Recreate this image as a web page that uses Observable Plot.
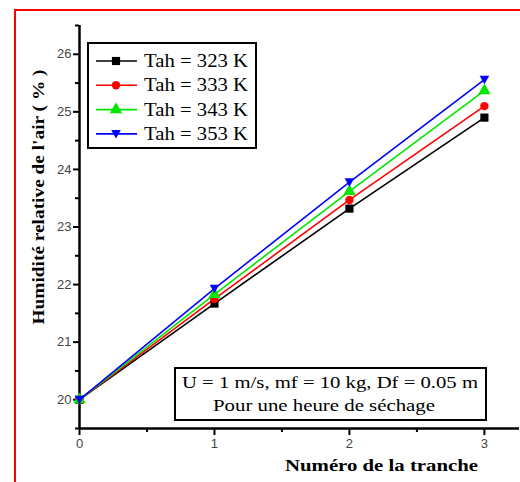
<!DOCTYPE html>
<html>
<head>
<meta charset="utf-8">
<script src="https://cdn.jsdelivr.net/npm/d3@7"></script>
<script src="https://cdn.jsdelivr.net/npm/@observablehq/plot@0.6"></script>
<style>
  html, body { margin: 0; padding: 0; background: #fff; }
  #wrap { position: relative; width: 520px; height: 482px; overflow: hidden; }
  #frame { position: absolute; left: 14px; top: 9px; width: 700px; height: 700px; border: 2px solid #ff0000; box-sizing: border-box; }
  #chart { position: absolute; left: 0; top: 0; }
</style>
</head>
<body>
<div id="wrap"><div id="frame"></div><div id="chart"></div></div>
<script>
// ---- data ----
const tranches = [0, 1, 2, 3];
const seriesNames = ["Tah = 323 K", "Tah = 333 K", "Tah = 343 K", "Tah = 353 K"];
const tah323 = [20, 21.67, 23.32, 24.90];
const tah333 = [20, 21.75, 23.47, 25.10];
const tah343 = [20, 21.83, 23.62, 25.37];
const tah353 = [20, 21.93, 23.78, 25.56];
const yTicks = [20, 21, 22, 23, 24, 25, 26];
const xTicks = [0, 1, 2, 3];
const xLabel = "Numéro de la tranche";
const yLabel = "Humidité relative de l'air ( % )";
const noteLines = ["U = 1 m/s, mf = 10 kg, Df = 0.05 m", "Pour une heure de séchage"];

// ---- styles ----
const colors = ["#000000", "#ff0000", "#00e600", "#0000ff"];
const triDown = {
  draw(context, size) {
    const h = Math.sqrt(size) * 0.95;
    const w = h * 0.62;
    context.moveTo(-w, -h * 0.5);
    context.lineTo(w, -h * 0.5);
    context.lineTo(0, h * 0.6);
    context.closePath();
  }
};
const symbols = ["square", "circle", "triangle", triDown];
const allSeries = [tah323, tah333, tah343, tah353];

const rows = [];
allSeries.forEach((vals, i) => vals.forEach((v, j) => rows.push({x: tranches[j], y: v, s: seriesNames[i], i})));

const tickFont = "Liberation Sans, Arial, sans-serif";
const marks = [];
marks.push(Plot.ruleX([0], {stroke: "#000", strokeWidth: 2.5}));
marks.push(Plot.ruleY([19.5], {stroke: "#000", strokeWidth: 2.5}));
marks.push(Plot.axisY(yTicks, {tickSize: 6, tickPadding: 2, fontSize: 13, fill: "#444", fontFamily: tickFont, stroke: "#000", strokeWidth: 2, tickFormat: d3.format("d"), label: null}));
marks.push(Plot.axisY(d3.range(19.5, 26.6, 1), {tickSize: 4, tickFormat: () => "", stroke: "#000", strokeWidth: 2, label: null}));
marks.push(Plot.axisX(xTicks, {tickSize: 7, tickPadding: 3, fontSize: 13, fill: "#444", fontFamily: tickFont, stroke: "#000", strokeWidth: 2, tickFormat: d3.format("d"), label: null}));
marks.push(Plot.axisX([0.5, 1.5, 2.5], {tickSize: 4, tickFormat: () => "", stroke: "#000", strokeWidth: 2, label: null}));

seriesNames.forEach((name, i) => {
  const d = rows.filter(r => r.i === i);
  marks.push(Plot.line(d, {x: "x", y: "y", stroke: colors[i], strokeWidth: 1.6}));
});
seriesNames.forEach((name, i) => {
  const d = rows.filter(r => r.i === i);
  marks.push(Plot.dot(d, {x: "x", y: "y", fill: colors[i], stroke: "none", symbol: symbols[i], r: i === 1 ? 4.2 : 4.6}));
});

const svg = Plot.plot({
  width: 520,
  height: 482,
  marginLeft: 79,
  marginRight: 1,
  marginTop: 25,
  marginBottom: 54,
  x: {domain: [0, 3.26], axis: null},
  y: {domain: [19.5, 26.5], axis: null},
  style: {background: "transparent", overflow: "visible"},
  marks
});
document.getElementById("chart").appendChild(svg);

const s = d3.select(svg);
const serif = "Liberation Serif, Times New Roman, serif";

s.append("text")
  .attr("x", 285).attr("y", 471)
  .attr("text-anchor", "start")
  .attr("font-family", serif).attr("font-weight", "bold").attr("font-size", 17)
  .attr("textLength", 193).attr("lengthAdjust", "spacingAndGlyphs")
  .attr("fill", "#000")
  .text(xLabel);
s.append("text")
  .attr("transform", "translate(44,197) rotate(-90)")
  .attr("text-anchor", "middle")
  .attr("font-family", serif).attr("font-weight", "bold").attr("font-size", 17)
  .attr("textLength", 255).attr("lengthAdjust", "spacingAndGlyphs")
  .attr("fill", "#000")
  .text(yLabel);

// legend
const lg = s.append("g");
lg.append("rect").attr("x", 88).attr("y", 43).attr("width", 168).attr("height", 105)
  .attr("fill", "#fff").attr("stroke", "#000").attr("stroke-width", 2);
seriesNames.forEach((name, i) => {
  const yy = 61 + i * 24.3;
  lg.append("line").attr("x1", 96).attr("x2", 137).attr("y1", yy).attr("y2", yy)
    .attr("stroke", colors[i]).attr("stroke-width", 1.6);
  const sym = typeof symbols[i] === "string"
    ? {square: d3.symbolSquare, circle: d3.symbolCircle, triangle: d3.symbolTriangle}[symbols[i]]
    : symbols[i];
  const size = Math.PI * (i === 1 ? 4.2 : 4.6) ** 2;
  lg.append("path").attr("transform", `translate(116,${yy})`)
    .attr("d", d3.symbol(sym, size)()).attr("fill", colors[i]);
  lg.append("text").attr("x", 144).attr("y", yy + 6)
    .attr("text-anchor", "start")
    .attr("font-family", serif).attr("font-size", 18).attr("fill", "#000")
    .attr("textLength", 104).attr("lengthAdjust", "spacingAndGlyphs")
    .text(name);
});

// annotation box
const nb = s.append("g");
nb.append("rect").attr("x", 175).attr("y", 368).attr("width", 311).attr("height", 52)
  .attr("fill", "#fff").attr("stroke", "#000").attr("stroke-width", 2);
const noteX = [182, 213];
const noteW = [296, 222];
const noteY = [388, 411];
noteLines.forEach((t, i) => {
  nb.append("text").attr("x", noteX[i]).attr("y", noteY[i])
    .attr("text-anchor", "start")
    .attr("font-family", serif).attr("font-size", 17).attr("fill", "#000")
    .attr("textLength", noteW[i]).attr("lengthAdjust", "spacingAndGlyphs")
    .text(t);
});
</script>
</body>
</html>
